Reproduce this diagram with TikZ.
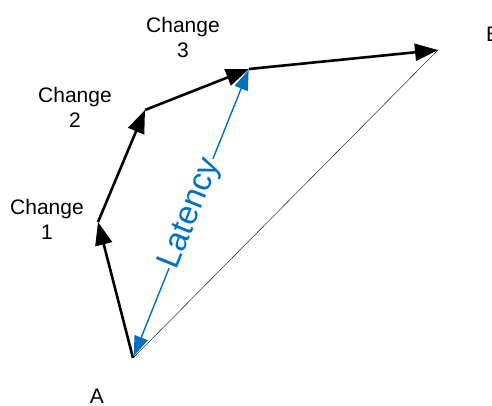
\documentclass[tikz,border=0pt]{standalone}
\usepackage{fontspec}
\setmainfont{Liberation Sans}
\usepackage{tikz}
\usetikzlibrary{arrows.meta, positioning}
\definecolor{latBlue}{RGB}{0,112,192}

\begin{document}
\begin{tikzpicture}[
    x=1pt, y=1pt,
    stepline/.style={draw=black, line width=2.6pt, -{Triangle[length=23pt, width=17pt]}},
    latline/.style={draw=latBlue, line width=1.4pt, {Triangle[length=20pt, width=14pt]}-{Triangle[length=20pt, width=14pt]}, shorten <=2pt, shorten >=1pt},
    chlabel/.style={align=center, font=\fontsize{21}{25}\selectfont, inner sep=0pt}
]
\useasboundingbox (0,0) rectangle (492,405);

% Points
\coordinate (A) at (133, 47);
\coordinate (c1) at (98, 183);
\coordinate (c2) at (145, 295);
\coordinate (c3) at (249, 336);
\coordinate (B) at (438, 355);

% Direct path
\draw[line width=0.4pt] (A) -- (B);

% Changes
\draw[stepline] (A) -- (c1);
\draw[stepline] (c1) -- (c2);
\draw[stepline] (c2) -- (c3);
\draw[stepline] (c3) -- (B);

% Latency
\draw[latline] (A) -- (c3) node (lat) [midway, sloped, fill=white, inner sep=1pt, text=latBlue, font=\fontsize{33}{36}\selectfont] {Latency};

% Labels
\node (l1) [chlabel] at (47, 186) {Change\\1};
\node (l2) [chlabel] at (75, 298) {Change\\2};
\node (l3) [chlabel] at (183, 368) {Change\\3};
\node (la) [anchor=base, font=\fontsize{21}{25}\selectfont, inner sep=0pt] at (97, 2) {A};
\node (lb) [anchor=base west, font=\fontsize{21}{25}\selectfont, inner sep=0pt] at (486, 363) {B};

\end{tikzpicture}
\end{document}
